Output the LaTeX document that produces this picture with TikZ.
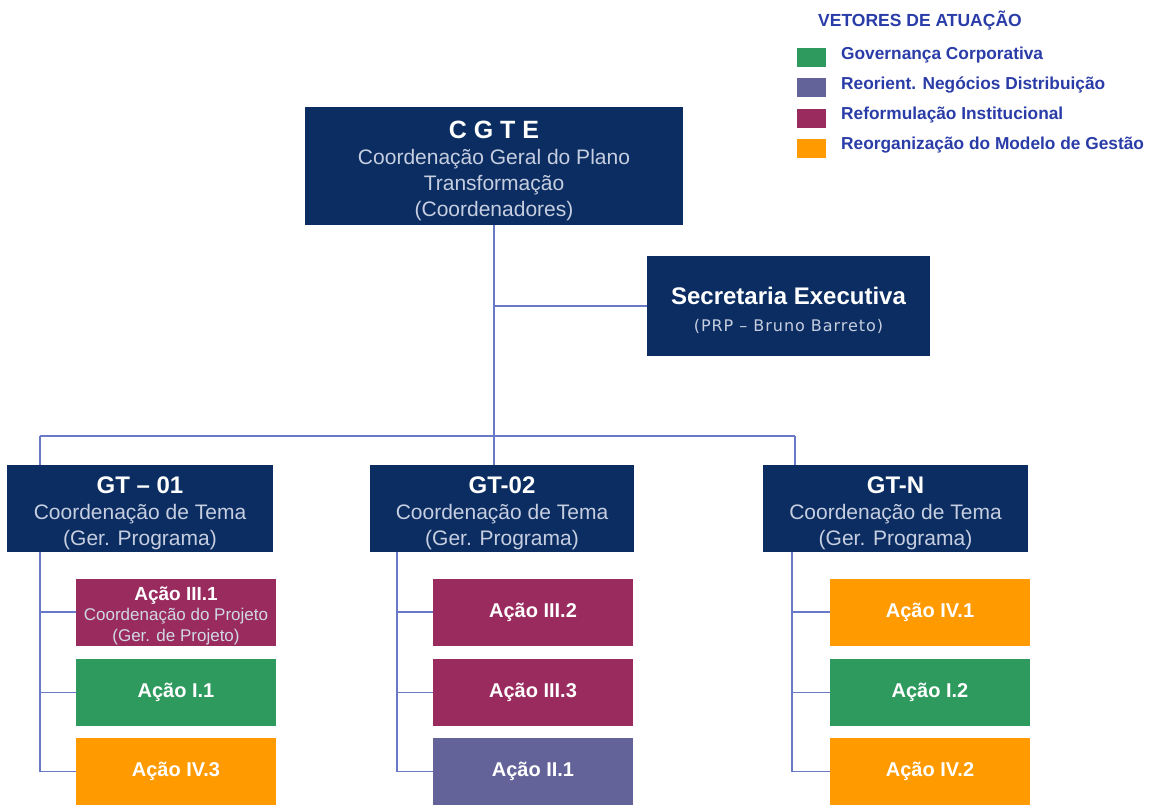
\documentclass[tikz,border=0pt]{standalone}
\usepackage{fontspec}
\setmainfont{Liberation Sans}
\newfontfamily\dejavu[LetterSpace=6]{DejaVu Sans}
\definecolor{navy}{HTML}{0B2D62}
\definecolor{cgreen}{HTML}{2E9A5E}
\definecolor{cpurple}{HTML}{63639A}
\definecolor{cmagenta}{HTML}{9A2B5E}
\definecolor{corange}{HTML}{FF9A00}
\definecolor{sub}{HTML}{C6CEE0}
\definecolor{conn}{HTML}{6A78C8}
\definecolor{legblue}{HTML}{2A3CA8}
\tikzset{
  box/.style={rectangle, inner sep=0pt, align=center, text=white},
  navybox/.style={box, fill=navy, font=\fontsize{21}{26}\selectfont},
  actbox/.style={box, minimum width=200pt, minimum height=67pt, font=\fontsize{20}{22}\selectfont\bfseries},
  connline/.style={draw=conn, line width=1.8pt},
  legsq/.style={rectangle, inner sep=0pt, minimum width=29pt, minimum height=19pt},
  legtext/.style={anchor=west, inner sep=0pt, text=legblue, font=\fontsize{17.3}{19}\selectfont\bfseries}
}
\newcommand{\subf}{\color{sub}}
\begin{document}
\begin{tikzpicture}[x=1pt,y=-1pt]
\useasboundingbox (0,0) rectangle (1151,804);
\fill[white] (0,0) rectangle (1151,804);

% legend
\node[anchor=west, inner sep=0pt, text=legblue, font=\fontsize{17.5}{19}\selectfont\bfseries] (legtitle) at (818,21) {VETORES DE ATUAÇÃO};
\node[legsq, fill=cgreen] (lg1) at (811.5,57.5) {};
\node[legsq, fill=cpurple] (lg2) at (811.5,87.5) {};
\node[legsq, fill=cmagenta] (lg3) at (811.5,118.5) {};
\node[legsq, fill=corange] (lg4) at (811.5,148.5) {};
\node[legtext] (lt1) at (841,55) {Governança Corporativa};
\node[legtext] (lt2) at (841,85) {Reorient. Negócios Distribuição};
\node[legtext] (lt3) at (841,115) {Reformulação Institucional};
\node[legtext] (lt4) at (841,145) {Reorganização do Modelo de Gestão};

% top
\node[navybox, minimum width=378pt, minimum height=118pt] (cgte) at (494,166)
  {{\rule{0pt}{28pt}\fontsize{25}{28}\selectfont\bfseries C G T E}\\
   {\subf Coordenação Geral do Plano}\\
   {\subf Transformação}\\
   {\subf (Coordenadores)}};
\node[navybox, minimum width=283pt, minimum height=100pt] (sec) at (788.5,306)
  {{\rule{0pt}{26pt}\fontsize{24}{26}\selectfont\bfseries Secretaria Executiva}\\[1pt]
   {\dejavu\fontsize{16}{18}\selectfont\color{sub} (PRP – Bruno Barreto)}};

% GT boxes
\node[navybox, minimum width=266pt, minimum height=87pt] (gt1) at (140,508.5)
  {{\rule{0pt}{26pt}\fontsize{24}{26}\selectfont\bfseries GT – 01}\\
   {\subf Coordenação de Tema}\\{\subf (Ger. Programa)}};
\node[navybox, minimum width=264pt, minimum height=87pt] (gt2) at (502,508.5)
  {{\rule{0pt}{26pt}\fontsize{24}{26}\selectfont\bfseries GT-02}\\
   {\subf Coordenação de Tema}\\{\subf (Ger. Programa)}};
\node[navybox, minimum width=265pt, minimum height=87pt] (gtn) at (895.5,508.5)
  {{\rule{0pt}{26pt}\fontsize{24}{26}\selectfont\bfseries GT-N}\\
   {\subf Coordenação de Tema}\\{\subf (Ger. Programa)}};

% action boxes
\node[actbox, fill=cmagenta, font=\fontsize{17}{20.5}\selectfont\bfseries] (a1) at (176,612)
  {{\rule{0pt}{21pt}\fontsize{19}{20.5}\selectfont Ação III.1}\\{\mdseries\color{sub!80!white} Coordenação do Projeto}\\{\mdseries\color{sub!80!white} (Ger. de Projeto)}};
\node[actbox, fill=cgreen] (a2) at (176,692.5) {Ação I.1};
\node[actbox, fill=corange] (a3) at (176,771.5) {Ação IV.3};
\node[actbox, fill=cmagenta] (b1) at (533,612) {Ação III.2};
\node[actbox, fill=cmagenta] (b2) at (533,692.5) {Ação III.3};
\node[actbox, fill=cpurple] (b3) at (533,771.5) {Ação II.1};
\node[actbox, fill=corange] (c1) at (930,612) {Ação IV.1};
\node[actbox, fill=cgreen] (c2) at (930,692.5) {Ação I.2};
\node[actbox, fill=corange] (c3) at (930,771.5) {Ação IV.2};

% connectors
\coordinate (jL) at (40,436);
\coordinate (jM) at (494,436);
\coordinate (jR) at (795,436);
\coordinate (vM) at (397,436);
\coordinate (vR) at (792,436);
\draw[connline] (cgte.south) -- (jM);
\draw[connline] (cgte.south |- sec.west) -- (sec.west);
\draw[connline] (jL) -- (jR);
\draw[connline] (jL) -- (jL |- gt1.north);
\draw[connline] (jM) -- (jM |- gt2.north);
\draw[connline] (jR) -- (jR |- gtn.north);

\draw[connline] (jL |- gt1.south) -- (jL |- a3.west) -- (a3.west);
\draw[connline] (jL |- a1.west) -- (a1.west);
\draw[connline] (jL |- a2.west) -- (a2.west);
\draw[connline] (vM |- gt2.south) -- (vM |- b3.west) -- (b3.west);
\draw[connline] (vM |- b1.west) -- (b1.west);
\draw[connline] (vM |- b2.west) -- (b2.west);
\draw[connline] (vR |- gtn.south) -- (vR |- c3.west) -- (c3.west);
\draw[connline] (vR |- c1.west) -- (c1.west);
\draw[connline] (vR |- c2.west) -- (c2.west);
\end{tikzpicture}
\end{document}
